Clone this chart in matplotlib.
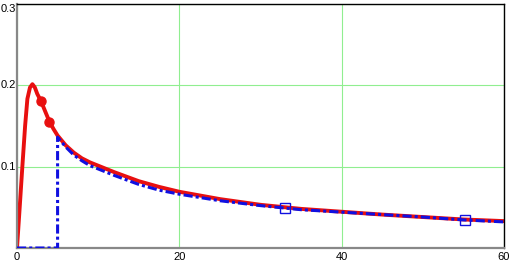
import matplotlib
matplotlib.use('Agg')
import matplotlib.pyplot as plt

plt.rcParams['font.family'] = ['Liberation Sans', 'DejaVu Sans']

# red curve
red_x = [0, 0.3, 0.66, 1.0, 1.28, 1.6, 1.9, 2.2, 2.5, 2.97, 3.5, 4.0, 4.5, 5, 6, 7, 8, 9, 10, 12,
         15, 17.5, 20, 25, 30, 35, 40, 45, 50, 55, 60]
red_y = [0, 0.045, 0.10, 0.15, 0.183, 0.197, 0.201, 0.197, 0.189, 0.180, 0.167, 0.155, 0.146, 0.138,
         0.126, 0.117, 0.110, 0.105, 0.101, 0.093, 0.082, 0.075, 0.069, 0.060, 0.053, 0.048, 0.0445,
         0.041, 0.038, 0.035, 0.033]
red_mark_x = [2.97, 4.0]
red_mark_y = [0.180, 0.155]

# blue dash-dot curve
blue_x = [0, 5, 5, 6, 7, 8, 9, 10, 12, 15, 17.5, 20, 25, 30, 35, 40, 45, 50, 55, 60]
blue_y = [0, 0, 0.136, 0.124, 0.114, 0.107, 0.101, 0.097, 0.089, 0.078, 0.071, 0.066, 0.058, 0.052,
          0.047, 0.044, 0.041, 0.038, 0.0345, 0.032]
blue_mark_x = [33, 55.2]
blue_mark_y = [0.049, 0.0345]

x_ticks = [0, 20, 40, 60]
y_ticks = [0.1, 0.2, 0.3]

fig = plt.figure(figsize=(5.14, 2.65), dpi=100)
ax = fig.add_axes([17 / 514, 17 / 265, 487 / 514, 244.5 / 265])

ax.grid(True, color='#90ee90', linewidth=0.8)
ax.set_axisbelow(True)

ax.plot(blue_x, blue_y, color='#1010e0', linewidth=2.2, linestyle=(0, (3, 1, 1, 1)), zorder=3)
ax.plot(red_x, red_y, color='#e81010', linewidth=2.8, zorder=2)
ax.plot(red_mark_x, red_mark_y, 'o', color='#e81010', markersize=6.5, zorder=4)
ax.plot(blue_mark_x, blue_mark_y, 's', markerfacecolor='none', markeredgecolor='#1010e0',
        markersize=7.5, markeredgewidth=1, zorder=4)

ax.set_xlim(0, 60)
ax.set_ylim(0, 0.3)
ax.set_xticks(x_ticks)
ax.set_yticks(y_ticks)
ax.set_xticklabels([str(v) for v in x_ticks])
ax.set_yticklabels([str(v) for v in y_ticks])
ax.tick_params(length=0, labelsize=8, pad=0.5)
ax.tick_params(axis='x', pad=3)
for lab in ax.get_yticklabels():
    lab.set_verticalalignment('center')
ax.get_yticklabels()[-1].set_verticalalignment('top')

for s in ['left', 'bottom']:
    ax.spines[s].set_color('#888888')
    ax.spines[s].set_linewidth(1.6)
for s in ['top', 'right']:
    ax.spines[s].set_color('black')
    ax.spines[s].set_linewidth(1.0)

fig.savefig('out.png', dpi=100)
